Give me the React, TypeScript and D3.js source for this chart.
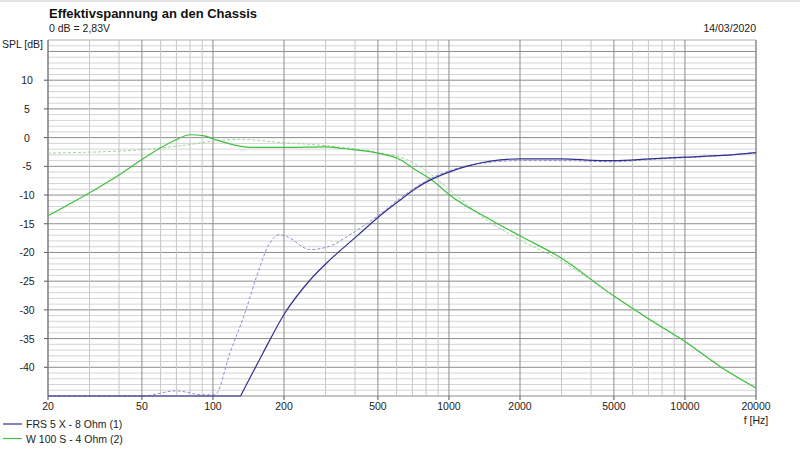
import * as d3 from "d3";

// frequency response (Hz, dB)
const frsFreq = [20, 131, 163, 200, 258, 313, 406, 500, 620, 720, 860, 1000, 1500, 2000, 3000, 4400, 5000, 7100, 10000, 14500, 20000];
const frsDb = [-45, -45, -37.5, -30.8, -24.8, -21.3, -17.2, -13.9, -10.9, -8.9, -7.1, -6.0, -4.1, -3.7, -3.7, -4.0, -4.0, -3.7, -3.4, -3.1, -2.6];

const frsRefFreq = [20, 50, 70, 90, 102, 118, 138, 153, 174, 191, 205, 258, 313, 381, 500, 620, 720, 860, 1000, 1500, 2000, 3000, 5000, 7100, 10000, 14500, 20000];
const frsRefDb = [-45, -45, -44.1, -44.8, -44.8, -37.5, -30, -24.2, -18.4, -16.9, -17.2, -19.5, -18.9, -16.9, -13.6, -10.6, -8.7, -6.9, -5.8, -4.3, -4.0, -4.0, -4.2, -3.8, -3.5, -3.1, -2.6];

const wooferFreq = [20, 30, 40, 50, 68, 80, 92, 100, 144, 200, 300, 355, 500, 620, 720, 860, 1000, 1500, 2000, 3000, 5000, 7100, 10000, 14500, 20000];
const wooferDb = [-13.6, -9.6, -6.5, -3.8, -0.6, 0.5, 0.3, -0.2, -1.7, -1.7, -1.6, -1.9, -2.7, -3.8, -5.6, -7.6, -9.9, -14.3, -17.1, -21.0, -27.6, -31.7, -35.5, -40.2, -43.6];

const wooferRefFreq = [20, 50, 80, 100, 130, 200, 300, 500, 660, 770, 900, 1000, 1500, 2000, 3000, 5000, 7100, 10000, 14500, 20000];
const wooferRefDb = [-2.7, -2.1, -1.2, -0.6, -0.3, -0.9, -1.4, -2.6, -3.8, -5.3, -7.4, -9.0, -14.8, -17.8, -21.5, -27.6, -31.6, -35.5, -40.2, -43.6];

const xTickLabels = [20, 50, 100, 200, 500, 1000, 2000, 5000, 10000, 20000];
const yTickLabels = [10, 5, 0, -5, -10, -15, -20, -25, -30, -35, -40];

const legendNames = ["FRS 5 X - 8 Ohm (1)", "W 100 S - 4 Ohm (2)"];

const W = 800;
const H = 455;
const margin = { left: 48, right: 44, top: 40, bottom: 59 };
const font = "'Liberation Sans', Arial, sans-serif";

export default function App() {
  const x = d3.scaleLog().domain([20, 20000]).range([margin.left, W - margin.right]);
  const y = d3.scaleLinear().domain([-45, 17]).range([H - margin.bottom, margin.top]);

  // minor vertical grid: 20..90, 100..900, ...
  const vGrid: number[] = [];
  for (const dec of [10, 100, 1000, 10000]) {
    for (let m = 1; m <= 9; m++) {
      const f = m * dec;
      if (f >= 20 && f <= 20000) vGrid.push(f);
    }
  }
  vGrid.push(20000);
  const hGrid = d3.range(-45, 18, 1);

  const line = d3
    .line<[number, number]>()
    .x((d) => x(d[0]))
    .y((d) => y(d[1]))
    .curve(d3.curveMonotoneX);

  const zip = (f: number[], v: number[]) => f.map((d, i) => [d, v[i]] as [number, number]);

  const frsPts = zip(frsFreq, frsDb);
  const series = [
    { data: zip(wooferRefFreq, wooferRefDb), color: "#9ad89a", dash: "3,2", w: 1 },
    { data: zip(frsRefFreq, frsRefDb), color: "#8e8ec8", dash: "3,2", w: 1 },
    { data: zip(wooferFreq, wooferDb), color: "#3fbf3f", dash: null, w: 1.2 },
    // the FRS curve is clipped at the floor: draw the flat part and the rise apart
    { data: frsPts.slice(0, 2), color: "#303090", dash: null, w: 1.2 },
    { data: frsPts.slice(1), color: "#303090", dash: null, w: 1.2 },
  ];

  const x0 = margin.left;
  const x1 = W - margin.right;
  const y0 = H - margin.bottom;
  const y1 = margin.top;

  return (
    <svg
      width={W}
      height={H}
      style={{ position: "absolute", left: 0, top: 0, background: "#fff" }}
      fontFamily={font}
    >
      <rect x={0} y={0} width={W} height={2} fill="#e4e4e4" />

      {/* horizontal grid */}
      {hGrid.map((v) => (
        <line
          key={"h" + v}
          x1={x0}
          x2={x1}
          y1={y(v)}
          y2={y(v)}
          stroke={v % 5 === 0 ? "#8c8c8c" : "#d4d4d4"}
          strokeWidth={1}
        />
      ))}
      <line x1={x0} x2={x1} y1={y1} y2={y1} stroke="#c8c8c8" />

      {/* vertical grid */}
      {vGrid.map((f) => (
        <line
          key={"v" + f}
          x1={x(f)}
          x2={x(f)}
          y1={y1}
          y2={y0}
          stroke={xTickLabels.includes(f) ? "#8c8c8c" : "#c6c6c6"}
          strokeWidth={1}
        />
      ))}

      {/* ticks */}
      {xTickLabels.map((f) => (
        <g key={"xt" + f}>
          <line x1={x(f)} x2={x(f)} y1={y0} y2={y0 + 4} stroke="#555" />
          <text x={x(f)} y={410} textAnchor="middle" fontSize={10.5} fill="#222">
            {f}
          </text>
        </g>
      ))}
      {yTickLabels.map((v) => (
        <g key={"yt" + v}>
          <line x1={x0 - 4} x2={x0} y1={y(v)} y2={y(v)} stroke="#555" />
          <text x={27} y={y(v) + 4} textAnchor="middle" fontSize={10.5} fill="#222">
            {v}
          </text>
        </g>
      ))}
      <line x1={x0} x2={x0} y1={y1} y2={y0} stroke="#777" />

      {/* curves */}
      {series.map((s, i) => (
        <path
          key={"s" + i}
          d={line(s.data) ?? ""}
          fill="none"
          stroke={s.color}
          strokeWidth={s.w}
          strokeDasharray={s.dash ?? undefined}
          strokeLinejoin="round"
        />
      ))}

      {/* titles */}
      <text x={49} y={18} fontSize={13} fontWeight="bold" fill="#111">
        Effektivspannung an den Chassis
      </text>
      <text x={49} y={32} fontSize={10.5} fill="#222">
        0 dB = 2,83V
      </text>
      <text x={756} y={32} fontSize={10.5} textAnchor="end" fill="#222">
        14/03/2020
      </text>
      <text x={43} y={48} fontSize={10.5} textAnchor="end" fill="#222">
        SPL [dB]
      </text>
      <text x={756} y={424} fontSize={10.5} textAnchor="middle" fill="#222">
        f [Hz]
      </text>

      {/* legend */}
      {legendNames.map((name, i) => (
        <g key={"lg" + i} transform={`translate(0, ${424 + i * 14.5})`}>
          <line x1={3} x2={22} y1={0} y2={0} stroke={i === 0 ? "#303090" : "#3fbf3f"} strokeWidth={1.2} />
          <text x={26} y={4} fontSize={10.5} fill="#222">
            {name}
          </text>
        </g>
      ))}
    </svg>
  );
}
